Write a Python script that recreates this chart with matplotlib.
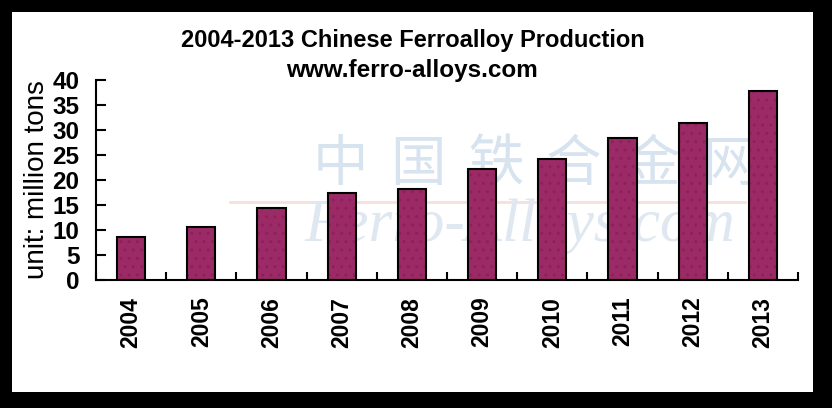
import numpy as np
import matplotlib
matplotlib.use("Agg")
from matplotlib import pyplot as plt
from matplotlib.patches import Rectangle

years = ['2004', '2005', '2006', '2007', '2008', '2009', '2010', '2011', '2012', '2013']
production = [8.6, 10.6, 14.4, 17.4, 18.2, 22.2, 24.2, 28.4, 31.4, 37.8]  # million tons
yticks = [0, 5, 10, 15, 20, 25, 30, 35, 40]
watermark_cn = '中国铁合金网'

W, H = 832, 408
fig = plt.figure(figsize=(W / 100, H / 100), dpi=100, facecolor='black')

# white panel inside the black frame
fig.patches.append(Rectangle((12 / W, 16 / H), 801 / W, 380 / H, transform=fig.transFigure,
                             facecolor='white', edgecolor='none', zorder=-2))

# faint watermark
for i, ch in enumerate(watermark_cn):
    fig.text((340 + i * 78) / W, 1 - 165 / H, ch, family=['Noto Sans CJK SC', 'DejaVu Sans'],
             fontsize=40, color='#d8e3f0', ha='center', va='center', zorder=-1)
fig.text(520 / W, 1 - 226 / H, 'Ferro-Alloys.com', family='Liberation Serif', style='italic',
         fontsize=44, color='#dfe7f1', ha='center', va='center', zorder=-1)
fig.add_artist(plt.Line2D([230 / W, 745 / W], [1 - 202 / H, 1 - 202 / H], color='#f5e0dc',
                          lw=2, zorder=-1))

ax = fig.add_axes([96 / W, 1 - 280 / H, 702 / W, 200 / H])
ax.set_facecolor('none')

x = np.arange(len(years))
ax.bar(x, production, width=0.4, color='#9b2a66', edgecolor='none', zorder=2)
ax.bar(x, production, width=0.4, facecolor='none', edgecolor='#8a235a', hatch='..',
       linewidth=0, zorder=3)
ax.bar(x, production, width=0.4, facecolor='none', edgecolor='black', linewidth=1.5, zorder=4)

ax.set_xlim(-0.5, len(years) - 0.5)
ax.set_ylim(0, 40)
ax.set_yticks(yticks)
ax.set_yticklabels([str(v) for v in yticks], fontsize=17.5, fontweight='bold',
                   family='Liberation Sans')
ax.set_xticks(x)
ax.set_xticklabels(years, rotation=90, fontsize=16.5, fontweight='bold', family='Liberation Sans')
ax.set_xticks(np.arange(-0.5, len(years)), minor=True)

ax.tick_params(axis='x', which='major', length=0, pad=12)
ax.tick_params(axis='x', which='minor', direction='in', length=6, width=1.5)
ax.tick_params(axis='y', direction='in', length=7, width=1.5, pad=12)

for s in ['top', 'right']:
    ax.spines[s].set_visible(False)
for s in ['left', 'bottom']:
    ax.spines[s].set_linewidth(1.5)

fig.text(37 / W, 1 - 180 / H, 'unit: million tons', fontsize=20, family='Liberation Sans',
         rotation=90, ha='center', va='center')

fig.text(413 / W, 1 - 41 / H, '2004-2013 Chinese Ferroalloy Production', fontsize=17,
         fontweight='bold', family='Liberation Sans', ha='center', va='center')
fig.text(412 / W, 1 - 71 / H, 'www.ferro-alloys.com', fontsize=17.5, fontweight='bold',
         family='Liberation Sans', ha='center', va='center')

fig.savefig('out.png', dpi=100, facecolor=fig.get_facecolor())
